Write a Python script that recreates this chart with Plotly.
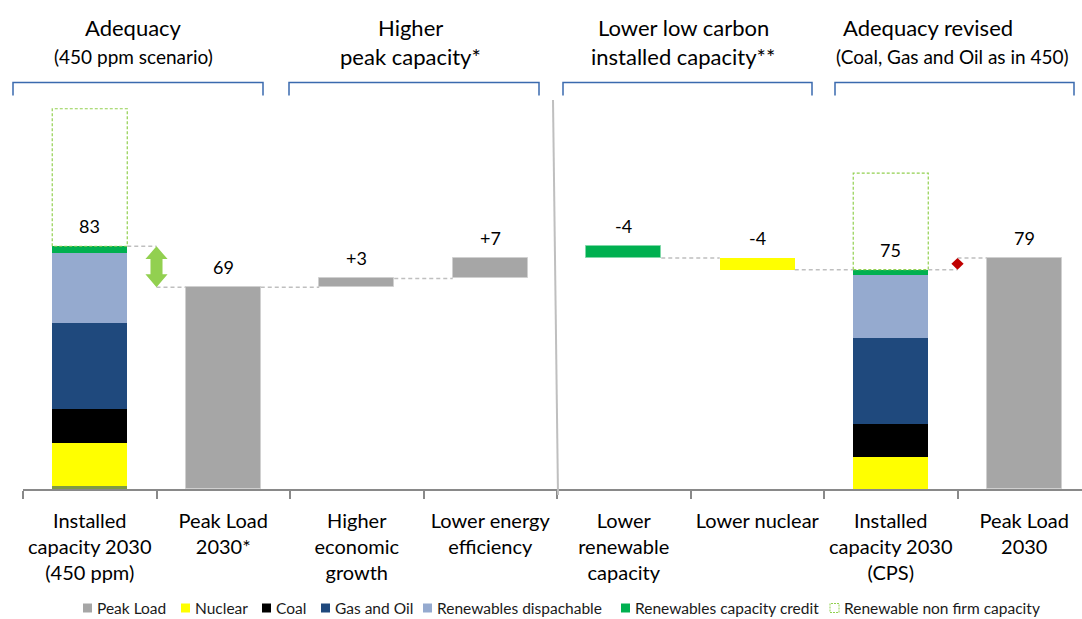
import plotly.graph_objects as go

# ---- data -------------------------------------------------------------
categories = [
    "Installed<br>capacity 2030<br>(450 ppm)",
    "Peak Load<br>2030*",
    "Higher<br>economic<br>growth",
    "Lower energy<br>efficiency",
    "Lower<br>renewable<br>capacity",
    "Lower nuclear",
    "Installed<br>capacity 2030<br>(CPS)",
    "Peak Load<br>2030",
]

# installed capacity stacks: [450 ppm scenario, CPS]
other_firm = [1.0, 0.0]
nuclear = [14.8, 10.8]
coal = [11.4, 11.4]
gas_oil = [29.5, 29.5]
ren_dispatchable = [24.1, 21.6]
ren_capacity_credit = [2.2, 1.7]
ren_non_firm = [47.0, 33.0]

# peak load walk
peak_load_450 = 69
higher_growth = 3
lower_efficiency = 7

# low carbon capacity walk
lower_renewable = -4
lower_nuclear = -4

section_titles = [
    ("Adequacy", "(450 ppm scenario)"),
    ("Higher", "peak capacity*"),
    ("Lower low carbon", "installed capacity**"),
    ("Adequacy revised", "(Coal, Gas and Oil as in 450)"),
]
legend_labels = ["Peak Load", "Nuclear", "Coal", "Gas and Oil",
                 "Renewables dispachable", "Renewables capacity credit",
                 "Renewable non firm capacity"]

# ---- styling ----------------------------------------------------------
FONT = "Lato"
C_GRAY = "#A6A6A6"
C_YELLOW = "#FFFF00"
C_BLACK = "#000000"
C_DARK = "#1F497D"
C_LIGHT = "#95AACF"
C_GREEN = "#00B050"
C_OLIVE = "#7F9A45"
C_NONFIRM = "#92D050"
C_CONN = "#BFBFBF"
C_BRACKET = "#3A6AAE"
C_RED = "#C00000"

W = 1082
H = 619
L, R, T, B = 23, 0, 100, 130
PW = W - L - R
PH = H - T - B
SLOT = 133.5                      # pixels per category
X0 = -0.5
X1 = X0 + PW / SLOT
Y_TOP = 133.0
BW = 0.562                        # bar width in category units


def px_x(px):
    return (px - L) / PW


def px_y(py):
    return (H - B - py) / PH


fig = go.Figure()

# ---- installed capacity stacks ------------------------------------------
stack_x = [0, 6]
stack_layers = [
    (other_firm, C_OLIVE),
    (nuclear, C_YELLOW),
    (coal, C_BLACK),
    (gas_oil, C_DARK),
    (ren_dispatchable, C_LIGHT),
    (ren_capacity_credit, C_GREEN),
]
base = [0.0, 0.0]
for values, colour in stack_layers:
    fig.add_trace(go.Bar(
        x=stack_x, y=values, base=list(base), width=BW,
        marker=dict(color=colour, line=dict(width=0)),
        showlegend=False, hoverinfo="skip"))
    base = [b + v for b, v in zip(base, values)]
cap_450, cap_cps_stack = base

# walk of low carbon capacity
cap_after_ren = cap_450 + lower_renewable
cap_cps = cap_after_ren + lower_nuclear
fig.add_trace(go.Bar(
    x=[4], y=[-lower_renewable], base=[cap_after_ren], width=BW,
    marker=dict(color=C_GREEN, line=dict(color="#7FD8A8", width=1)),
    showlegend=False, hoverinfo="skip"))
fig.add_trace(go.Bar(
    x=[5], y=[-lower_nuclear], base=[cap_cps], width=BW,
    marker=dict(color=C_YELLOW, line=dict(width=0)),
    showlegend=False, hoverinfo="skip"))

# walk of peak load
peak_mid = peak_load_450 + higher_growth
peak_cps = peak_mid + lower_efficiency
fig.add_trace(go.Bar(
    x=[1, 2, 3, 7],
    y=[peak_load_450, higher_growth, lower_efficiency, peak_cps],
    base=[0, peak_load_450, peak_mid, 0], width=BW,
    marker=dict(color=C_GRAY, line=dict(color="#D0D0D0", width=1)),
    showlegend=False, hoverinfo="skip"))

# non firm renewable capacity: dashed outline above each stack
for xi, bottom, extra in zip(stack_x, [cap_450, cap_cps_stack], ren_non_firm):
    xl, xr = xi - BW / 2, xi + BW / 2
    fig.add_trace(go.Scatter(
        x=[xl, xl, xr, xr, xl], y=[bottom, bottom + extra, bottom + extra, bottom, bottom],
        mode="lines", line=dict(color=C_NONFIRM, width=1.2, dash="3px,2px"),
        showlegend=False, hoverinfo="skip"))

# dashed connectors between the walk steps
hb = BW / 2
connectors = [
    ((0 + hb, 0.5), cap_450),
    ((0.5, 1 - hb), peak_load_450),
    ((1 + hb, 2 - hb), peak_load_450),
    ((2 + hb, 3 - hb), peak_mid),
    ((4 + hb, 5 - hb), cap_after_ren),
    ((5 + hb, 6 - hb), cap_cps),
    ((6 + hb, 6.5), cap_cps),
    ((6.5, 7 - hb), peak_cps),
]
for (xa, xb), level in connectors:
    fig.add_trace(go.Scatter(
        x=[xa, xb], y=[level, level], mode="lines",
        line=dict(color=C_CONN, width=1.5, dash="4px,3px"),
        showlegend=False, hoverinfo="skip"))


# gap arrows between capacity and peak load
def double_arrow(xc, top, bottom, head_half, shaft_half, head_len):
    xs = [xc, xc + head_half, xc + shaft_half, xc + shaft_half, xc + head_half,
          xc, xc - head_half, xc - shaft_half, xc - shaft_half, xc - head_half, xc]
    ys = [top, top - head_len, top - head_len, bottom + head_len, bottom + head_len,
          bottom, bottom + head_len, bottom + head_len, top - head_len, top - head_len, top]
    return xs, ys


ax_x, ax_y = double_arrow(0.5, cap_450, peak_load_450, 0.083, 0.045, 4.4)
fig.add_trace(go.Scatter(x=ax_x, y=ax_y, mode="lines", fill="toself",
                         fillcolor=C_NONFIRM, line=dict(width=0),
                         showlegend=False, hoverinfo="skip"))
mid = (cap_cps + peak_cps) / 2
fig.add_trace(go.Scatter(
    x=[6.5, 6.546, 6.5, 6.454, 6.5], y=[peak_cps, mid, cap_cps, mid, peak_cps],
    mode="lines", fill="toself", fillcolor=C_RED, line=dict(width=0),
    showlegend=False, hoverinfo="skip"))

# ---- value labels -------------------------------------------------------
value_labels = [
    (0, cap_450, f"{cap_450:.0f}"),
    (1, peak_load_450, f"{peak_load_450:.0f}"),
    (2, peak_mid, f"{higher_growth:+d}"),
    (3, peak_cps, f"{lower_efficiency:+d}"),
    (4, cap_450, f"{lower_renewable:d}"),
    (5, cap_after_ren, f"{lower_nuclear:d}"),
    (6, cap_cps, f"{cap_cps:.0f}"),
    (7, peak_cps, f"{peak_cps:.0f}"),
]
annotations = []
for xi, top, txt in value_labels:
    annotations.append(dict(
        x=xi, y=top, xref="x", yref="y", text=txt, showarrow=False,
        yanchor="middle", yshift=20, font=dict(family=FONT, size=18, color="#000000")))

# ---- section headers ----------------------------------------------------
title_pos = [(133, 133), (410, 410), (683, 683), (928, 952)]
title_sizes = [(22, 19), (22, 22), (22, 22), (22, 19)]
for (t1, t2), (c1, c2), (s1, s2) in zip(section_titles, title_pos, title_sizes):
    annotations.append(dict(x=px_x(c1), y=px_y(27), xref="paper", yref="paper",
                            text=t1, showarrow=False, xanchor="center", yanchor="middle",
                            font=dict(family=FONT, size=s1, color="#000000")))
    annotations.append(dict(x=px_x(c2), y=px_y(57), xref="paper", yref="paper",
                            text=t2, showarrow=False, xanchor="center", yanchor="middle",
                            font=dict(family=FONT, size=s2, color="#000000")))

# ---- legend -------------------------------------------------------------
legend_colours = [C_GRAY, C_YELLOW, C_BLACK, C_DARK, C_LIGHT, C_GREEN, None]
legend_left = [83, 181, 262, 321, 423, 621, 830]
shapes = []
LEG_Y = 608
for label, colour, lx in zip(legend_labels, legend_colours, legend_left):
    if colour is None:
        shapes.append(dict(type="rect", xref="paper", yref="paper",
                           x0=px_x(lx), x1=px_x(lx + 9), y0=px_y(LEG_Y + 4.5), y1=px_y(LEG_Y - 4.5),
                           line=dict(color=C_NONFIRM, width=1, dash="2px,1px"),
                           fillcolor="rgba(0,0,0,0)"))
    else:
        shapes.append(dict(type="rect", xref="paper", yref="paper",
                           x0=px_x(lx), x1=px_x(lx + 9), y0=px_y(LEG_Y + 4.5), y1=px_y(LEG_Y - 4.5),
                           line=dict(width=0), fillcolor=colour))
    annotations.append(dict(x=px_x(lx + 12), y=px_y(LEG_Y), xref="paper", yref="paper",
                            text=label, showarrow=False, xanchor="left", yanchor="middle",
                            font=dict(family=FONT, size=15.5, color="#1A1A1A")))

# section brackets
brackets = [(13, 263), (289, 539), (563, 812), (835, 1074)]
for bx0, bx1 in brackets:
    ytop, ybot = px_y(82.5), px_y(95.5)
    xa, xb = px_x(bx0), px_x(bx1)
    shapes.append(dict(type="path", xref="paper", yref="paper",
                       path=f"M {xa},{ybot} L {xa},{ytop} L {xb},{ytop} L {xb},{ybot}",
                       line=dict(color=C_BRACKET, width=1.5)))

# divider between the peak and the capacity sections
shapes.append(dict(type="line", xref="paper", yref="paper",
                   x0=px_x(553), y0=px_y(100), x1=px_x(558), y1=px_y(495),
                   line=dict(color=C_CONN, width=2)))

fig.update_layout(
    width=W, height=H,
    margin=dict(l=L, r=R, t=T, b=B),
    paper_bgcolor="white", plot_bgcolor="white",
    barmode="overlay", bargap=0,
    showlegend=False,
    annotations=annotations, shapes=shapes,
    font=dict(family=FONT, color="#000000"),
    xaxis=dict(
        range=[X0, X1], tickmode="array", tickvals=list(range(len(categories))),
        ticktext=categories, ticks="", showgrid=False, zeroline=False,
        showline=True, linecolor="#898989", linewidth=1.5,
        tickfont=dict(family=FONT, size=20, color="#000000"),
        ticklabelstandoff=13,
        minor=dict(tickmode="array", tickvals=[i - 0.5 for i in range(len(categories) + 1)],
                   ticks="outside", ticklen=8, tickcolor="#898989", tickwidth=1.5,
                   showgrid=False),
        fixedrange=True),
    yaxis=dict(range=[0, Y_TOP], visible=False, fixedrange=True),
)

fig.write_html("out.html")
